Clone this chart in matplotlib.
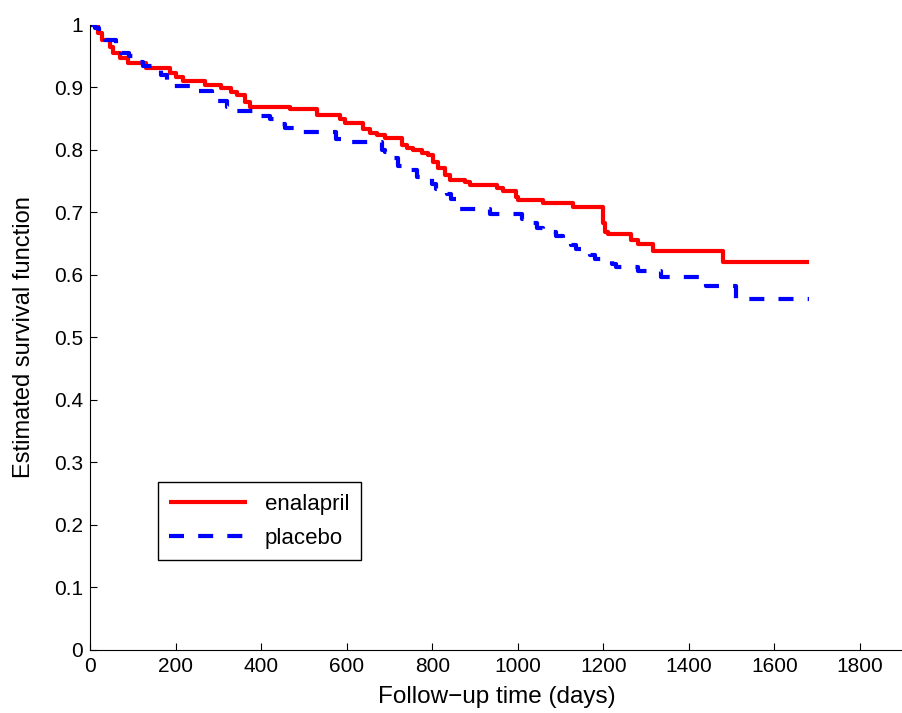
import numpy as np
import matplotlib
matplotlib.use('Agg')
import matplotlib.pyplot as plt
from matplotlib.ticker import FuncFormatter

# Kaplan-Meier step data (day, survival after step)
enal_days = [0, 18, 29, 46, 53, 71, 88, 130, 186, 200, 217, 268, 306, 329, 343,
             362, 374, 467, 530, 584, 596, 638, 655, 671, 690, 730, 741, 755,
             776, 790, 802, 814, 830, 842, 877, 889, 952, 966, 995, 1000, 1060,
             1130, 1200, 1205, 1212, 1264, 1280, 1315, 1480, 1680]
enal_surv = [1.0, 0.987, 0.976, 0.965, 0.955, 0.947, 0.939, 0.931, 0.923, 0.917,
             0.910, 0.904, 0.899, 0.893, 0.888, 0.877, 0.869, 0.866, 0.856, 0.850,
             0.843, 0.834, 0.827, 0.824, 0.819, 0.808, 0.803, 0.800, 0.795, 0.792,
             0.781, 0.771, 0.760, 0.752, 0.749, 0.744, 0.739, 0.734, 0.725, 0.720,
             0.715, 0.709, 0.683, 0.669, 0.665, 0.656, 0.650, 0.639, 0.621, 0.621]

plac_days = [0, 12, 22, 35, 60, 72, 90, 100, 125, 150, 165, 180, 190, 240, 285,
             300, 320, 335, 400, 420, 440, 455, 480, 575, 605, 683, 690, 710,
             720, 735, 765, 800, 810, 835, 845, 860, 865, 935, 1010, 1020, 1045,
             1060, 1090, 1105, 1125, 1135, 1170, 1180, 1220, 1230, 1280, 1335,
             1440, 1510, 1680]
plac_surv = [1.0, 0.995, 0.985, 0.976, 0.965, 0.955, 0.950, 0.940, 0.935, 0.930,
             0.920, 0.910, 0.903, 0.895, 0.888, 0.878, 0.868, 0.862, 0.855, 0.850,
             0.842, 0.835, 0.828, 0.818, 0.812, 0.800, 0.797, 0.787, 0.775, 0.768,
             0.757, 0.745, 0.737, 0.730, 0.722, 0.712, 0.706, 0.697, 0.690, 0.683,
             0.675, 0.668, 0.662, 0.655, 0.648, 0.642, 0.632, 0.625, 0.617, 0.612,
             0.607, 0.597, 0.582, 0.562, 0.562]

xticks = np.arange(0, 1801, 200)
yticks = np.arange(0, 1.01, 0.1)

plt.rcParams['font.family'] = ['Liberation Sans', 'DejaVu Sans']

fig = plt.figure(figsize=(9.03, 7.13), dpi=100)
ax = fig.add_axes([0.0997, 0.0884, 0.900, 0.8766])

ax.plot(enal_days, enal_surv, drawstyle='steps-post', color='#ff0000',
        lw=3, label='enalapril', solid_capstyle='butt')
ax.plot(plac_days, plac_surv, drawstyle='steps-post', color='#0000ff',
        lw=3, ls=(0, (3.6, 3.4)), label='placebo', dash_capstyle='butt')

ax.set_xlim(0, 1900)
ax.set_ylim(0, 1)
ax.set_xticks(xticks)
ax.set_yticks(yticks)
ax.yaxis.set_major_formatter(FuncFormatter(lambda v, p: '%g' % round(v, 1)))
ax.tick_params(direction='in', length=5, width=0.8, labelsize=15, pad=5)
ax.spines['top'].set_visible(False)
ax.spines['right'].set_visible(False)

ax.set_xlabel('Follow\u2212up time (days)', fontsize=17.5, labelpad=7)
ax.set_ylabel('Estimated survival function', fontsize=17, labelpad=14)

leg = ax.legend(loc='lower left', bbox_to_anchor=(0.084, 0.144), fontsize=16,
                borderaxespad=0, handlelength=3.5, handletextpad=0.8,
                fancybox=False, framealpha=1, edgecolor='black',
                borderpad=0.5, labelspacing=0.6)
leg.get_frame().set_linewidth(1)

fig.savefig('out.png', dpi=100)
